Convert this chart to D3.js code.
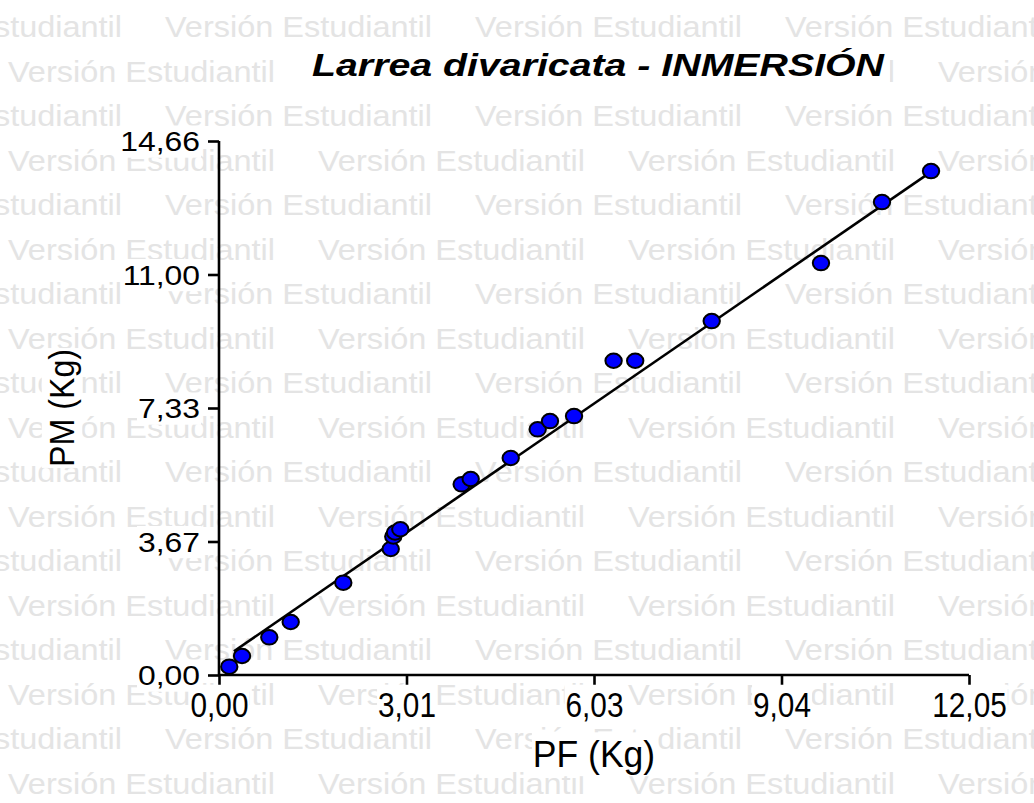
<!DOCTYPE html>
<html>
<head>
<meta charset="utf-8">
<script src="https://cdn.jsdelivr.net/npm/d3@7"></script>
<style>
  html, body { margin: 0; padding: 0; background: #fff; }
  svg { display: block; }
  text { font-family: "Liberation Sans", Arial, sans-serif; }
</style>
</head>
<body>
<svg id="chart" width="1034" height="803"></svg>
<script>
// ---- data ----
const pf = [0.165, 0.370, 0.808, 1.152, 1.997, 2.759, 2.800, 2.828, 2.913, 3.899, 4.044,
            4.687, 5.120, 5.318, 5.704, 6.340, 6.687, 7.916, 9.672, 10.652, 11.440];
const pm = [0.228, 0.522, 1.035, 1.455, 2.534, 3.459, 3.802, 3.912, 4.002, 5.235, 5.380,
            5.957, 6.745, 6.972, 7.109, 8.628, 8.628, 9.717, 11.309, 12.984, 13.835];

// linear fit PM = slope * PF + intercept, drawn over this PF span
const fitSlope = 1.175;
const fitIntercept = 0.37;
const fitSpan = [0.24, 11.55];

const xTicks = [0, 3.0125, 6.025, 9.0375, 12.05];
const xTickLabels = ["0,00", "3,01", "6,03", "9,04", "12,05"];
const yTicks = [0, 3.665, 7.33, 10.995, 14.66];
const yTickLabels = ["0,00", "3,67", "7,33", "11,00", "14,66"];

const titleText = "Larrea divaricata - INMERSIÓN";
const xTitle = "PF (Kg)";
const yTitle = "PM (Kg)";
const watermarkText = "Versión Estudiantil";

// ---- layout ----
const svg = d3.select("#chart");
const W = 1034, H = 803;
const x = d3.scaleLinear().domain([0, 12.05]).range([219, 969]);
const y = d3.scaleLinear().domain([0, 14.66]).range([675, 141]);

svg.append("rect").attr("width", W).attr("height", H).attr("fill", "#fff");

// background watermark rows
const wm = svg.append("g").attr("fill", "#e4e4e4").style("font-size", "30px");
const wmPeriod = 310, wmRowGap = 44.5;
for (let r = 0; r < 18; r++) {
  const offset = r % 2 === 0 ? -145 : 8;
  for (let k = 0; k < 5; k++) {
    wm.append("text")
      .attr("x", offset + k * wmPeriod)
      .attr("y", 37 + r * wmRowGap)
      .attr("textLength", 267)
      .attr("lengthAdjust", "spacingAndGlyphs")
      .text(watermarkText);
  }
}

// puts a white box behind a text node
function backing(node, pad) {
  const b = node.getBBox();
  const ctm = node.getCTM();
  const parentCtm = node.parentNode.getCTM();
  const m = parentCtm.inverse().multiply(ctm);
  const x0 = m.a * b.x + m.e, x1 = m.a * (b.x + b.width) + m.e;
  const y0 = m.d * b.y + m.f, y1 = m.d * (b.y + b.height) + m.f;
  const xs = [x0, x1].sort((a, c) => a - c), ys = [y0, y1].sort((a, c) => a - c);
  d3.select(node.parentNode).insert("rect", () => node)
    .attr("x", xs[0] - pad).attr("y", ys[0] - pad)
    .attr("width", xs[1] - xs[0] + 2 * pad).attr("height", ys[1] - ys[0] + 2 * pad)
    .attr("fill", "#fff");
}

// title
const title = svg.append("g").attr("transform", "translate(598,76)");
const tt = title.append("text")
  .attr("text-anchor", "middle")
  .style("font-size", "31px").style("font-weight", "bold").style("font-style", "italic")
  .attr("textLength", 572).attr("lengthAdjust", "spacingAndGlyphs")
  .text(titleText);
backing(tt.node(), 5);

// axes
const axisX = svg.append("g").attr("transform", `translate(0,${y(0)})`)
  .call(d3.axisBottom(x).tickValues(xTicks).tickSize(11).tickFormat((d, i) => xTickLabels[i]));
const axisY = svg.append("g").attr("transform", `translate(${x(0)},0)`)
  .call(d3.axisLeft(y).tickValues(yTicks).tickSize(11).tickFormat((d, i) => yTickLabels[i]));

[axisX, axisY].forEach(a => {
  a.select(".domain").attr("stroke", "#000").attr("stroke-width", 2.6).attr("d",
    a === axisX ? `M${x(0) - 1},0H${x(12.05)}` : `M0,${y(14.66)}V${y(0) + 1}`);
  a.selectAll(".tick line").attr("stroke", "#000").attr("stroke-width", 2.6);
});

axisX.selectAll(".tick text")
  .attr("y", null).attr("dy", null).attr("fill", "#000")
  .attr("font-family", null).attr("font-size", null)
  .style("font-size", "35px")
  .attr("text-anchor", "middle")
  .attr("transform", "translate(0,42) scale(0.85,1)")
  .each(function () { backing(this, 1); });

axisY.selectAll(".tick text")
  .attr("x", null).attr("dy", null).attr("fill", "#000")
  .attr("font-family", null).attr("font-size", null)
  .style("font-size", "27px")
  .attr("text-anchor", "end")
  .attr("transform", "translate(-19,9.7) scale(1.18,1)")
  .each(function () { backing(this, 1); });

// axis titles
const xt = svg.append("g").attr("transform", "translate(594,767) scale(0.96,1)");
const xtt = xt.append("text").attr("text-anchor", "middle").style("font-size", "37px").text(xTitle);
backing(xtt.node(), 1);

const yt = svg.append("g").attr("transform", "translate(74,408) rotate(-90) scale(0.92,1)");
const ytt = yt.append("text").attr("text-anchor", "middle").style("font-size", "35px").text(yTitle);
backing(ytt.node(), 1);

// fitted line
svg.append("line")
  .attr("x1", x(fitSpan[0])).attr("y1", y(fitIntercept + fitSlope * fitSpan[0]))
  .attr("x2", x(fitSpan[1])).attr("y2", y(fitIntercept + fitSlope * fitSpan[1]))
  .attr("stroke", "#000").attr("stroke-width", 2.6);

// observations
svg.append("g").selectAll("ellipse")
  .data(d3.range(pf.length))
  .join("ellipse")
  .attr("cx", i => x(pf[i]))
  .attr("cy", i => y(pm[i]))
  .attr("rx", 8.2).attr("ry", 7.2)
  .attr("fill", "#0000ff")
  .attr("stroke", "#000").attr("stroke-width", 2);
</script>
</body>
</html>
